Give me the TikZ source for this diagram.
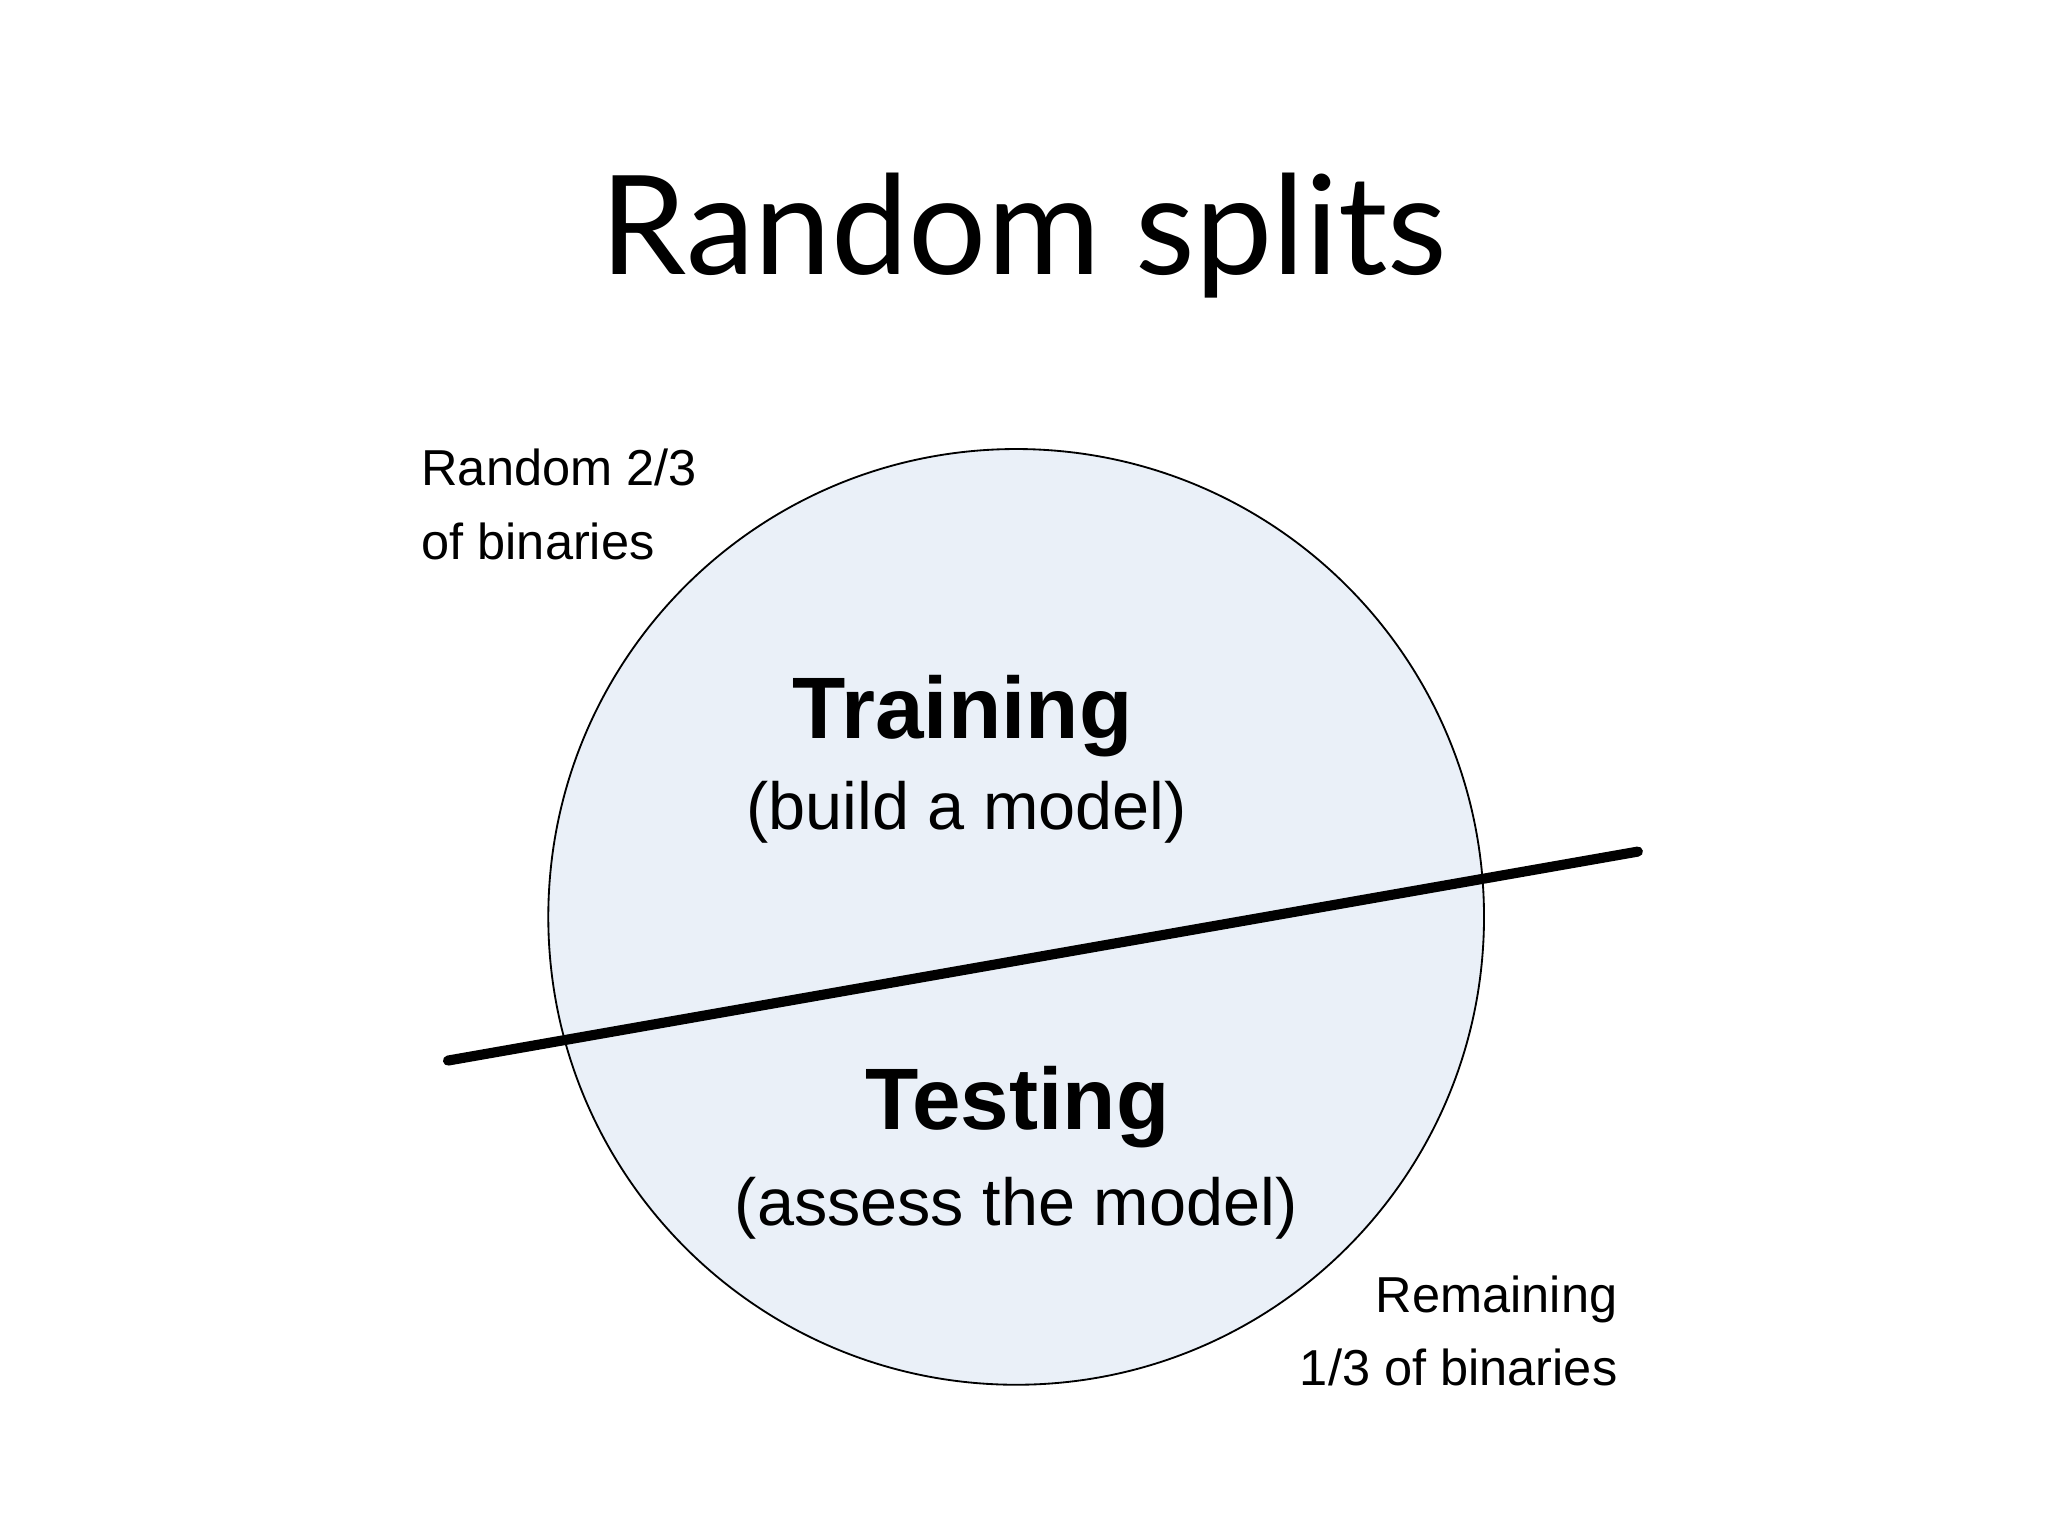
\documentclass[tikz,border=0pt]{standalone}
\usepackage{fontspec}
\setmainfont{Liberation Sans}
\newfontfamily\titlefont{Lato}
\definecolor{circfill}{HTML}{EAF0F8}
\begin{document}
\begin{tikzpicture}[x=0.01cm,y=-0.01cm,
  lbl/.style={inner sep=0pt,font=\fontsize{11pt}{16pt}\selectfont},
  big/.style={inner sep=0pt,font=\fontsize{19pt}{22pt}\selectfont\bfseries},
  sub/.style={inner sep=0pt,font=\fontsize{14.5pt}{17pt}\selectfont}]
\useasboundingbox (0,0) rectangle (1568,1176);
\node[circle,draw=black,line width=0.4pt,fill=circfill,minimum size=7.16cm,inner sep=0pt] (c) at (778,702) {};
\coordinate (l) at (343,812);
\coordinate (r) at (1254,652);
\draw[line width=2.2pt,line cap=round] (l) -- (r);
\node[inner sep=0pt,font=\titlefont\fontsize{30pt}{34pt}\selectfont] (title) at (784,180) {Random splits};
\node[big] (train) at (737,548) {Training};
\node[sub] (trainsub) at (740,622) {(build a model)};
\node[big] (test) at (779,848) {Testing};
\node[sub] (testsub) at (778,925) {(assess the model)};
\node[lbl,align=left,anchor=north west] (tl) at (322,343) {Random 2/3\\of binaries};
\node[lbl,align=right,anchor=north east] (br) at (1239,976) {Remaining\\1/3 of binaries};
\end{tikzpicture}
\end{document}
